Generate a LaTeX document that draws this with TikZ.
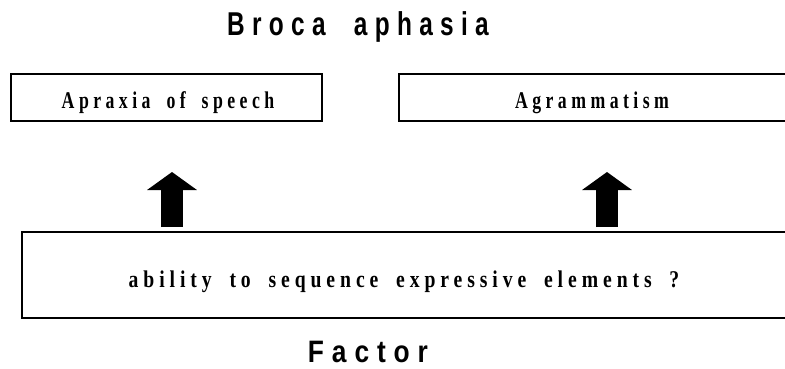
\documentclass[tikz,border=0pt]{standalone}
\usepackage{fontspec}
\setmainfont{Liberation Serif}
\newfontfamily\titlefont[LetterSpace=30,WordSpace=2]{Liberation Sans}
\newfontfamily\boxfont[LetterSpace=25,WordSpace=1.8]{Liberation Serif}
\usetikzlibrary{arrows.meta}
\tikzset{
  frame/.style={draw=black, line width=2.6pt, fill=white},
  titletext/.style={font=\titlefont\bfseries\fontsize{33}{36}\selectfont, inner sep=0pt, xscale=0.74, anchor=base},
  factortext/.style={font=\titlefont\bfseries\fontsize{31}{34}\selectfont, inner sep=0pt, xscale=0.85, anchor=base},
  boxtext/.style={font=\boxfont\bfseries\fontsize{24}{27}\selectfont, inner sep=0pt, xscale=0.82, anchor=base},
  toptext/.style={font=\boxfont\bfseries\fontsize{24}{27}\selectfont, inner sep=0pt, xscale=0.74, anchor=base},
  bigarrow/.style={line width=22pt, -{Triangle[width=49pt,length=18pt]}}
}
\begin{document}
\begin{tikzpicture}[x=1pt,y=-1pt]
\useasboundingbox (0,0) rectangle (785,369);
\clip (0,0) rectangle (785,369);
% boxes
\draw[frame] (11,74) rectangle (322,121);
\draw[frame] (399,74) rectangle (800,121);
\draw[frame] (22,232) rectangle (800,318);
% texts
\node[titletext] (broca) at (358,36) {Broca aphasia};
\node[toptext] (apraxia) at (168,108) {Apraxia of speech};
\node[toptext] (agram) at (592,108) {Agrammatism};
\node[boxtext] (ability) at (404,287) {ability to sequence expressive elements ?};
\node[factortext] (factor) at (368,362) {Factor};
% arrows
\coordinate (a1s) at (172,227);
\coordinate (a1e) at (172,172);
\coordinate (a2s) at (607,227);
\coordinate (a2e) at (607,172);
\draw[bigarrow] (a1s) -- (a1e);
\draw[bigarrow] (a2s) -- (a2e);
\end{tikzpicture}
\end{document}
